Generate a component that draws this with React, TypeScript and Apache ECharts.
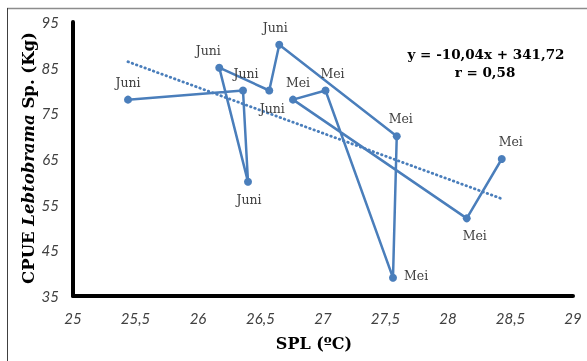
import React, { useEffect, useRef } from "react";
import * as echarts from "echarts";

const months = ["Juni", "Juni", "Juni", "Juni", "Juni", "Juni", "Mei", "Mei", "Mei", "Mei", "Mei", "Mei"];
const splValues = [25.44, 26.36, 26.4, 26.17, 26.57, 26.65, 27.59, 27.56, 27.02, 26.76, 28.15, 28.43];
const cpueValues = [78, 80, 60, 85, 80, 90, 70, 39, 80, 78, 52, 65];
const labelPositions = ["top", "top", "bottom", "top", "bottom", "top", "top", "right", "top", "top", "bottom", "top"];
const labelOffsets = [[0, 0], [3, 0], [1, 0], [-11, 0], [3, 0], [-4, 0], [4, 0], [0, -2], [7, 0], [5, 0], [8, 0], [9, 0]];
const trendX = [25.44, 28.43];
const trendY = [86.3, 56.3];
const xTicks = { min: 25, max: 29, interval: 0.5 };
const yTicks = { min: 35, max: 95, interval: 10 };
const equationText = "y = -10,04x + 341,72";
const rText = "r = 0,58";

const BLUE = "#4a7ebb";

export default function App() {
  const ref = useRef<HTMLDivElement>(null);
  useEffect(() => {
    const chart = echarts.init(ref.current!, null, { renderer: "svg" });
    const points = splValues.map((x, i) => ({
      value: [x, cpueValues[i]],
      label: {
        show: true,
        formatter: months[i],
        position: labelPositions[i],
        offset: labelOffsets[i],
        distance: 7,
        fontFamily: "DejaVu Serif",
        fontSize: 12.5,
        color: "#404040",
      },
    }));
    const fmt = (v: number) => String(v).replace(".", ",");
    chart.setOption({
      animation: false,
      grid: { left: 73, right: 14, top: 22, bottom: 65, containLabel: false },
      xAxis: {
        type: "value",
        min: xTicks.min,
        max: xTicks.max,
        interval: xTicks.interval,
        splitLine: { show: false },
        axisTick: { show: false },
        axisLine: { show: true, onZero: false, lineStyle: { color: "#000", width: 4 } },
        axisLabel: {
          formatter: fmt,
          margin: 14,
          fontFamily: "Lato",
          fontStyle: "italic",
          fontSize: 15,
          color: "#404040",
        },
      },
      yAxis: {
        type: "value",
        min: yTicks.min,
        max: yTicks.max,
        interval: yTicks.interval,
        splitLine: { show: false },
        axisTick: { show: false },
        axisLine: { show: true, onZero: false, lineStyle: { color: "#000", width: 4 } },
        axisLabel: {
          formatter: fmt,
          margin: 14,
          fontFamily: "Lato",
          fontStyle: "italic",
          fontSize: 15,
          color: "#404040",
        },
      },
      series: [
        {
          type: "line",
          data: points,
          symbol: "circle",
          symbolSize: 8,
          itemStyle: { color: BLUE },
          lineStyle: { color: BLUE, width: 2.5 },
          z: 3,
        },
        {
          type: "line",
          data: trendX.map((x, i) => [x, trendY[i]]),
          symbol: "none",
          lineStyle: { color: BLUE, width: 2.8, type: [0.5, 4], cap: "round" },
          z: 2,
        },
      ],
      graphic: [
        { type: "line", shape: { x1: 7, y1: 8.5, x2: 587, y2: 8.5 }, style: { stroke: "#8c8c8c", lineWidth: 1.5 } },
        { type: "line", shape: { x1: 7.5, y1: 8, x2: 7.5, y2: 361 }, style: { stroke: "#404040", lineWidth: 1 } },
        {
          type: "text",
          x: 486,
          y: 54,
          style: {
            text: equationText,
            fontFamily: "DejaVu Serif",
            fontWeight: "bold",
            fontSize: 13.5,
            fill: "#000",
            align: "center",
            verticalAlign: "middle",
          },
        },
        {
          type: "text",
          x: 485,
          y: 72,
          style: {
            text: rText,
            fontFamily: "DejaVu Serif",
            fontWeight: "bold",
            fontSize: 13.5,
            fill: "#000",
            align: "center",
            verticalAlign: "middle",
          },
        },
        {
          type: "text",
          x: 314,
          y: 343,
          style: {
            text: "SPL (ºC)",
            fontFamily: "DejaVu Serif",
            fontWeight: "bold",
            fontSize: 16,
            fill: "#000",
            align: "center",
            verticalAlign: "middle",
          },
        },
        {
          type: "text",
          x: 28,
          y: 158,
          rotation: Math.PI / 2,
          style: {
            text: "{a|CPUE }{b|Lebtobrama}{a| Sp. (Kg)}",
            align: "center",
            verticalAlign: "middle",
            rich: {
              a: { fontFamily: "DejaVu Serif", fontWeight: "bold", fontSize: 16.5, fill: "#000" },
              b: { fontFamily: "DejaVu Serif", fontWeight: "bold", fontStyle: "italic", fontSize: 16.5, fill: "#000" },
            },
          },
        },
      ],
    });
    return () => chart.dispose();
  }, []);
  return <div ref={ref} style={{ position: "fixed", left: 0, top: 0, width: 587, height: 361 }} />;
}
